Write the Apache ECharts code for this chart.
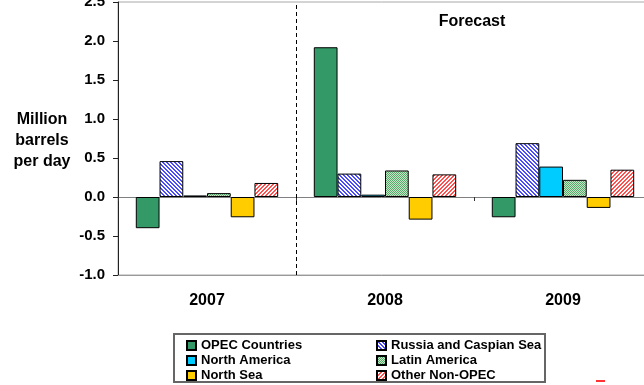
<!DOCTYPE html>
<html>
<head>
<meta charset="utf-8">
<script src="https://cdn.jsdelivr.net/npm/echarts@6/dist/echarts.min.js"></script>
<style>
  html, body { margin: 0; padding: 0; background: #fff; }
  #chart { width: 644px; height: 385px; }
</style>
</head>
<body>
<div id="chart"></div>
<script>
// Annual change in oil supply by region (million barrels per day)
const categories = ['2007', '2008', '2009'];
const opecCountries = [-0.40, 1.92, -0.26];
const russiaCaspian = [0.46, 0.30, 0.69];
const northAmerica = [0.02, 0.03, 0.39];
const latinAmerica = [0.05, 0.34, 0.22];
const northSea = [-0.26, -0.29, -0.14];
const otherNonOpec = [0.18, 0.29, 0.35];
const yTicks = { min: -1.0, max: 2.5, step: 0.5 };
// Boundary (in category units) separating actual years from the forecast
const forecastStart = [1];

const FONT = '"Liberation Sans", Arial, sans-serif';

// Small repeating fills for the hatched bars
function makePattern(size, background, paint) {
  const c = document.createElement('canvas');
  c.width = size; c.height = size;
  const ctx = c.getContext('2d');
  ctx.fillStyle = background;
  ctx.fillRect(0, 0, size, size);
  for (let x = 0; x < size; x++) {
    for (let y = 0; y < size; y++) {
      const col = paint(x, y);
      if (col) { ctx.fillStyle = col; ctx.fillRect(x, y, 1, 1); }
    }
  }
  return { image: c, repeat: 'repeat' };
}
const blueHatch = makePattern(4, '#ffffff', (x, y) => (((x - y) % 4 + 4) % 4 < 2 ? '#4a4aff' : null));
const redHatch = makePattern(4, '#ffffff', (x, y) => ((x + y) % 4 < 2 ? '#ff5050' : null));
const greenCheck = makePattern(4, '#c6e6c6', (x, y) => ((x + y) % 2 === 0 ? '#56a86c' : null));

function barSeries(name, data, color) {
  return {
    name: name,
    type: 'bar',
    xAxisIndex: 0,
    data: data,
    barGap: '0%',
    barCategoryGap: '20%',
    itemStyle: { color: color, borderColor: '#000', borderWidth: 1 },
    emphasis: { disabled: true }
  };
}

const chart = echarts.init(document.getElementById('chart'), null, { renderer: 'canvas' });

const legendText = { fontFamily: FONT, fontWeight: 'bold', fontSize: 13, color: '#000', lineHeight: 15 };

chart.setOption({
  animation: false,
  backgroundColor: '#fff',
  grid: {
    left: 118, top: 2, width: 534, bottom: 110,
    outerBoundsMode: 'none',
    show: true, borderColor: '#a8a8a8', borderWidth: 1
  },
  legend: [
    {
      orient: 'vertical', left: 186, top: 338, height: 48, padding: 0, itemGap: 0,
      itemWidth: 9, itemHeight: 9, icon: 'rect',
      data: ['OPEC Countries', 'North America', 'North Sea'],
      textStyle: legendText
    },
    {
      orient: 'vertical', left: 376, top: 338, height: 48, padding: 0, itemGap: 0,
      itemWidth: 9, itemHeight: 9, icon: 'rect',
      data: ['Russia and Caspian Sea', 'Latin America', 'Other Non-OPEC'],
      textStyle: legendText
    }
  ],
  xAxis: [
    {
      type: 'category', data: categories, position: 'bottom',
      axisLine: { onZero: false, lineStyle: { color: '#999', width: 1 } },
      axisTick: { show: false },
      axisLabel: { fontFamily: FONT, fontWeight: 'bold', fontSize: 16, color: '#000', margin: 18 },
      splitLine: { show: false }
    },
    {
      type: 'category', data: categories, position: 'bottom',
      axisLine: { onZero: true, onZeroAxisIndex: 0, lineStyle: { color: '#808080', width: 1 } },
      axisTick: { show: true, length: 4, interval: 0, lineStyle: { color: '#333' } },
      axisLabel: { show: false },
      splitLine: { show: false }
    },
    {
      // continuous helper axis spanning the same categories, used for the forecast divider
      type: 'value', min: 0, max: categories.length, show: false
    }
  ],
  yAxis: {
    type: 'value', min: yTicks.min, max: yTicks.max, interval: yTicks.step,
    axisLine: { show: true, onZero: false, lineStyle: { color: '#222', width: 1 } },
    axisTick: { show: true, length: 5, lineStyle: { color: '#222' } },
    axisLabel: {
      fontFamily: FONT, fontWeight: 'bold', fontSize: 15, color: '#000', margin: 13,
      formatter: (v) => v.toFixed(1)
    },
    splitLine: { show: false }
  },
  series: [
    barSeries('OPEC Countries', opecCountries, '#339966'),
    barSeries('Russia and Caspian Sea', russiaCaspian, blueHatch),
    barSeries('North America', northAmerica, '#00ccff'),
    barSeries('Latin America', latinAmerica, greenCheck),
    barSeries('North Sea', northSea, '#ffcc00'),
    barSeries('Other Non-OPEC', otherNonOpec, redHatch),
    {
      name: 'divider',
      type: 'line',
      xAxisIndex: 2,
      data: [],
      silent: true,
      markLine: {
        silent: true,
        symbol: ['none', 'none'],
        label: { show: false },
        lineStyle: { color: '#000', type: [4, 3], width: 1 },
        data: forecastStart.map((v) => ({ xAxis: v }))
      }
    }
  ],
  graphic: [
    {
      type: 'text', z: 10,
      style: {
        text: 'Million\nbarrels\nper day', x: 42, y: 109,
        textAlign: 'center', lineHeight: 21,
        font: 'bold 16px ' + FONT, fill: '#000'
      }
    },
    {
      type: 'text', z: 10,
      style: {
        text: 'Forecast', x: 472, y: 14, textAlign: 'center',
        font: 'bold 16px ' + FONT, fill: '#000'
      }
    },
    {
      type: 'rect', z: 5,
      shape: { x: 174, y: 334, width: 371, height: 48 },
      style: { fill: 'none', stroke: '#666', lineWidth: 2 }
    },
    {
      type: 'rect', z: 5,
      shape: { x: 596, y: 380, width: 9, height: 2 },
      style: { fill: '#ff3333' }
    }
  ]
});
</script>
</body>
</html>
